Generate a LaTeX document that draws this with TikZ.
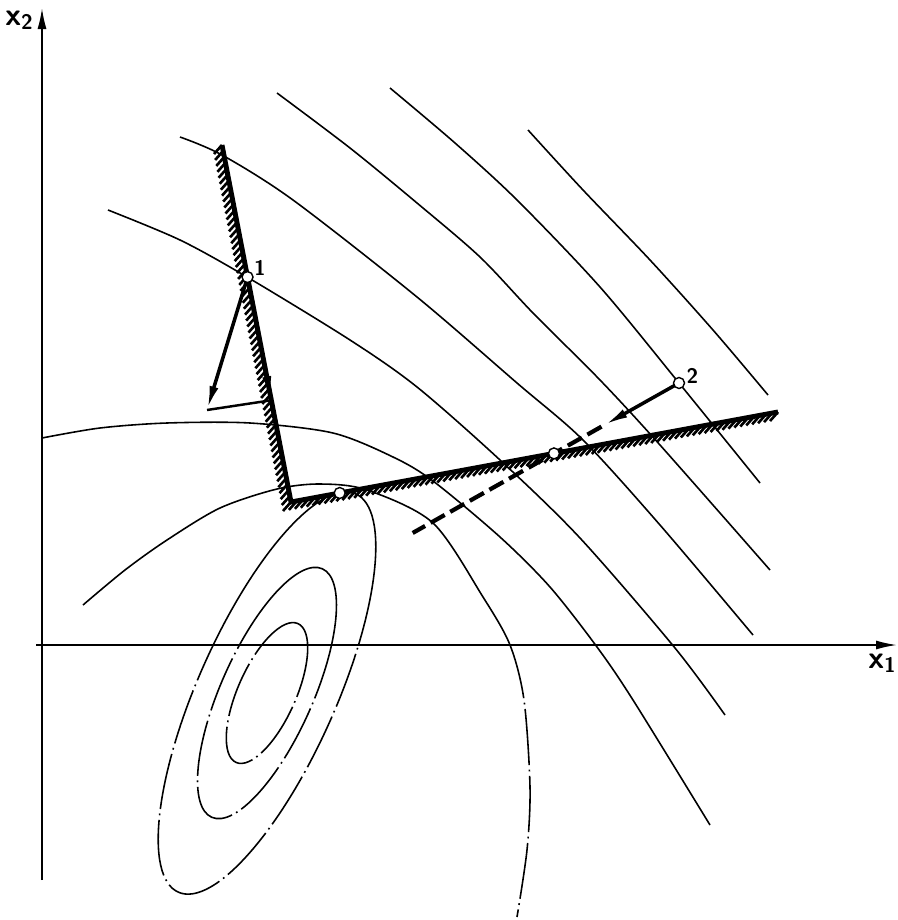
\documentclass[tikz,border=0pt]{standalone}
\usetikzlibrary{arrows.meta,calc,positioning}

\begin{document}
\begin{tikzpicture}[
            x=0.1mm, y=-0.1mm,
            contour/.style={line width=0.45pt},
            infeasible/.style={line width=0.45pt, dash pattern=on 16pt off 1.3pt on 0.5pt off 1.3pt},
            bound/.style={line width=1.4pt, line join=miter},
            hatchline/.style={line width=0.75pt},
            walk/.style={line width=1pt, -{Latex[length=2.4mm,width=0.9mm]}},
            axisline/.style={line width=0.5pt, -{Latex[length=2.1mm,width=0.9mm]}},
            iterate/.style={draw, circle, fill=white, line width=0.4pt, minimum size=1.1mm, inner sep=0pt},
            tag/.style={font=\sffamily\bfseries\fontsize{6}{7}\selectfont, inner sep=0.5pt}
        ]
        \useasboundingbox (0,0) rectangle (898,920);

        % axes
        \draw[axisline] (42,880) -- (42,8);
        \draw[axisline] (36,645) -- (897,645);
        \node[font=\sffamily\bfseries\small] (X2) at (20,20) {x\textsubscript{2}};
        \node[font=\sffamily\bfseries\small] (X1) at (883,663) {x\textsubscript{1}};

        % level curves
        \coordinate (M) at (267,693);
        \begin{scope}
            \clip (0,0) rectangle (898,645);
            \foreach \a/\b in {7.6/2.9, 13.6/4.6, 21.8/6.9}
                \draw[contour, rotate around={66:(M)}] (M) ellipse [x radius=\a mm, y radius=\b mm];
            \draw[contour] plot[smooth] coordinates {(83,605) (125,570) (167,540) (220,508) (277,489) (320,484) (367,490) (433,523) (483,597) (510,645) (524,700) (530,787) (527,850) (517,917)};
        \end{scope}
        \begin{scope}
            \clip (0,645) rectangle (898,920);
            \foreach \a/\b in {7.6/2.9, 13.6/4.6, 21.8/6.9}
                \draw[infeasible, rotate around={66:(M)}] (M) ellipse [x radius=\a mm, y radius=\b mm];
            \draw[infeasible] plot[smooth] coordinates {(83,605) (125,570) (167,540) (220,508) (277,489) (320,484) (367,490) (433,523) (483,597) (510,645) (524,700) (530,787) (527,850) (517,917)};
        \end{scope}
        \draw[contour] plot[smooth] coordinates {(42,438) (100,428) (167,423) (250,423) (333,433) (393,457) (433,481) (500,537) (550,587) (597,647) (633,700) (710,825)};
        \draw[contour] plot[smooth] coordinates {(108,210) (180,240) (247,277) (350,340) (417,387) (500,460) (580,538) (675,648) (725,715)};
        \draw[contour] plot[smooth] coordinates {(180,137) (222,155) (293,200) (417,297) (517,383) (583,440) (660,525) (753,635)};
        \draw[contour] plot[smooth] coordinates {(277,93) (350,148) (417,203) (480,257) (533,313) (600,380) (660,445) (770,570)};
        \draw[contour] plot[smooth] coordinates {(390,88) (455,143) (517,200) (600,287) (679,383) (760,483)};
        \draw[contour] plot[smooth] coordinates {(528,130) (583,190) (650,260) (713,330) (768,395)};

        % constraints
        \coordinate (St) at (222,145);
        \coordinate (C) at (291,502);
        \coordinate (He) at (778,412);
        \draw[bound] (St) -- (C) -- (He);
        \foreach \i in {0,...,60}
            \draw[hatchline] ($(St)!\i/60!(C)$) -- ++(-8,9);
        \foreach \i in {1,...,82}
            \draw[hatchline] ($(C)!\i/82!(He)$) -- ++(-8,9);

        % search steps
        \coordinate (P1) at ($(St)!0.37!(C)$);
        \coordinate (F) at ($(St)!0.715!(C)$);
        \coordinate (G) at (207,410);
        \coordinate (Opt) at ($(C)!0.1!(He)$);
        \coordinate (P2) at (679,383);
        \coordinate (Q) at ($(C)!0.54!(He)$);
        \coordinate (R) at ($(P2)!2.13!(Q)$);
        \draw[walk] (P1) -- (G);
        \draw[line width=0.7pt] (G) -- (F);
        \draw[walk] (P1) -- (F);
        \draw[walk] (P2) -- ($(P2)!0.6!(Q)$);
        \draw[line width=1.2pt, dash pattern=on 4.6pt off 1.8pt] ($(P2)!0.62!(Q)$) -- (R);

        \node[iterate] (N1) at (P1) {};
        \node[iterate] (N2) at (P2) {};
        \node[iterate] (NQ) at (Q) {};
        \node[iterate] (NO) at (Opt) {};
        \node[tag, right=-0.2mm of N1, yshift=0.9mm] {1};
        \node[tag, right=-0.1mm of N2, yshift=0.7mm] {2};
    \end{tikzpicture}
\end{document}
